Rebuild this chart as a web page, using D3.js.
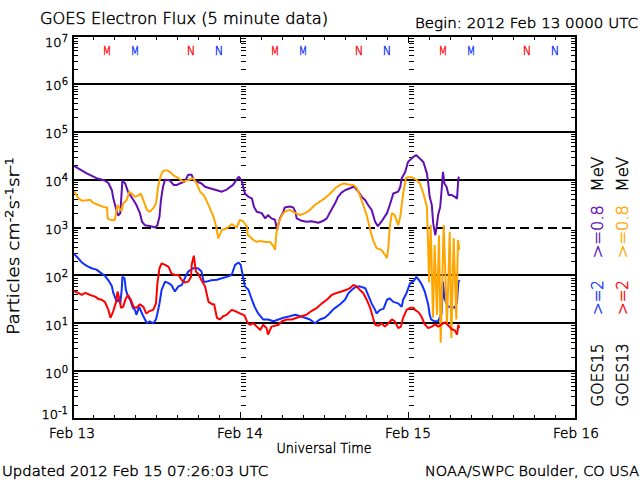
<!DOCTYPE html>
<html><head><meta charset="utf-8">
<script src="https://cdn.jsdelivr.net/npm/d3@7"></script>
<style>
html,body{margin:0;padding:0;background:#fff;}
svg{display:block;}
text{font-family:"DejaVu Sans",sans-serif;font-weight:200;fill:#000;stroke:#000;stroke-width:0.45px;}
</style>
</head><body>
<script>
// ---------- data (hours since 2012 Feb 13 00:00 UTC, particle flux) ----------
const goes15_08_h = [0.1,2.1,3.5,4.7,5.2,5.7,5.9,6.4,6.6,6.9,7.2,7.6,8.0,8.8,9.2,9.7,10.0,10.4,11.1,11.9,12.2,12.5,12.7,13.0,13.3,14.0,14.5,15.0,15.4,16.1,16.6,17.1,17.4,18.0,18.5,19.0,19.7,20.7,21.4,22.1,23.0,23.8,24.2,24.7,25.2,25.7,26.0,26.4,27.1,27.6,28.0,28.5,29.0,29.3,29.7,30.2,30.4,31.1,31.6,31.9,32.1,32.8,33.5,34.2,35.2,35.9,36.4,36.9,37.6,38.0,38.5,39.0,39.7,40.2,40.4,40.9,41.4,41.9,42.3,42.8,43.3,43.7,44.2,45.0,45.4,45.9,46.6,46.9,47.1,47.6,48.0,48.8,49.2,49.7,50.2,50.7,50.9,51.1,51.4,51.6,51.9,52.1,52.3,52.6,52.8,53.0,53.2,53.5,53.8,54.2,54.7,55.0,55.2,55.3];
const goes15_08_v = [20000,13500,10700,9550,8500,6000,4070,2140,1780,2000,9550,8300,5600,3700,2950,2000,1320,1120,1070,1000,1120,1700,3700,7100,10000,9550,7760,7760,8300,9100,12600,12600,9770,8900,8300,7100,6600,6000,5600,6200,7760,11500,9770,5130,4370,4070,2690,2140,2000,1550,1820,1550,1450,890,1550,2140,2630,2750,2630,2140,1550,1380,1320,1350,1260,1380,1550,2140,3240,4370,5370,6000,6600,7100,6900,5600,4370,3700,2950,2340,1320,1070,1320,2000,2950,5130,5600,7100,10700,14500,23400,30200,32400,27500,23400,13500,8300,4370,2950,1230,690,1050,1820,2690,6000,14500,8300,7100,4790,4790,4370,3980,10700,11500];

const goes13_08_h = [0.0,0.4,0.9,1.4,2.1,2.6,3.0,3.8,4.5,5.0,5.1,5.4,6.1,6.3,6.5,6.9,7.1,7.3,7.8,8.2,8.5,9.0,9.5,9.8,10.2,10.7,11.1,11.6,12.0,12.3,12.7,13.0,13.5,14.0,14.5,15.2,15.9,16.6,17.3,17.8,18.3,18.8,19.2,19.7,20.2,20.6,20.9,21.4,22.1,22.8,23.5,24.0,24.5,25.0,25.1,25.4,25.9,26.4,26.9,27.6,28.3,28.8,29.0,29.2,29.5,30.0,30.4,31.1,31.9,32.6,33.3,34.0,34.7,35.4,36.1,36.9,37.6,38.3,38.8,39.5,40.2,40.7,41.1,41.6,42.1,42.6,43.0,43.5,44.2,44.7,45.0,45.2,45.4,45.7,46.1,46.6,46.9,47.3,47.7,48.0,48.5,49.2,49.7,50.2,50.7,50.9,51.0,51.24,51.57,51.81,52.14,52.43,52.67,53.1,53.57,53.96,54.19,54.53,54.9,55.14,55.33];
const goes13_08_v = [5370,5500,4070,3630,3700,3800,3310,2950,2690,2630,1550,1450,1410,2000,2950,2340,2240,3160,3700,5600,5130,4370,4680,5130,3700,2340,2140,2510,3160,7100,12300,15100,15800,14500,12300,10700,9100,9770,10700,8300,5600,4790,3700,2510,1700,1050,590,890,955,1175,1000,1450,1320,1050,690,650,550,500,525,500,500,400,340,760,1230,1820,2140,2340,2000,1820,2000,2340,2950,3470,4070,5130,6600,7760,8300,7940,7760,6600,4790,2950,1820,890,550,370,340,270,230,400,1050,2000,1820,1120,1700,5000,10700,11200,11200,10000,8300,5130,2690,340,72,1120,13,430,15,690,3.9,1120,9.1,810,4.9,600,12,550,340];

const goes15_2_h = [0.1,0.7,1.4,2.1,2.8,3.5,4.2,4.7,5.2,5.7,5.9,6.4,6.6,6.9,7.1,7.2,7.5,7.7,8.0,8.3,8.7,9.0,9.2,9.6,10.0,10.3,10.7,11.1,11.6,12.0,12.2,12.5,12.8,13.3,13.8,14.2,14.7,15.2,15.7,16.1,16.6,17.3,18.0,18.5,18.8,19.2,19.9,20.7,21.4,22.1,22.8,23.3,23.8,24.1,24.4,24.7,25.2,25.7,26.1,26.6,27.3,28.0,28.8,29.5,30.2,31.1,31.9,32.6,33.3,34.0,34.7,35.4,36.1,36.6,37.1,37.6,38.3,39.0,39.5,40.0,40.4,41.1,41.9,42.3,42.8,43.3,43.5,44.0,44.5,45.0,45.4,45.9,46.6,47.1,47.3,47.8,48.3,48.8,49.2,49.6,50.0,50.4,50.9,51.1,51.3,51.8,52.3,52.8,53.0,53.2,53.7,54.2,54.7,55.0,55.2,55.4];
const goes15_2_v = [295,245,186,158,141,132,110,98,79,59,43,28,32,26,50,93,87,50,36,31,21,19,15,22,16,13,10,11,10,12,16,26,50,74,69,63,46,59,63,87,120,141,141,120,74,74,79,81,87,93,102,166,186,166,98,59,50,31,22,16,12,12,11,12,13,14,15,14,13,12,10,12,13,15,18,21,25,31,43,50,56,59,54,39,26,19,16,19,20,31,33,28,26,22,31,43,69,76,93,79,63,46,24,15,12,11,11,16,74,33,22,22,21,28,74,79];

const goes13_2_h = [0.0,0.4,0.9,1.4,1.9,2.6,3.3,3.8,4.2,4.7,5.2,5.5,5.9,6.3,6.5,6.8,7.0,7.3,7.7,8.0,8.4,8.8,9.2,9.7,10.2,10.6,11.1,11.6,12.0,12.2,12.5,12.8,13.3,13.8,14.2,14.7,15.2,15.7,16.1,16.6,17.0,17.1,17.4,17.7,18.0,18.5,19.0,19.5,20.0,20.3,20.7,21.1,21.6,22.1,22.8,23.3,24.0,24.5,24.7,25.1,25.4,25.9,26.4,26.9,27.3,27.8,28.0,28.5,29.0,29.5,30.0,30.7,31.4,32.1,32.8,33.5,34.2,35.0,35.7,36.4,37.1,37.8,38.5,39.2,39.7,40.2,40.7,41.1,41.6,42.1,42.6,43.0,43.3,43.8,44.2,44.7,45.2,45.7,46.1,46.6,47.0,47.3,47.8,48.3,48.8,49.0,49.5,49.9,50.4,50.9,51.4,51.9,52.3,52.8,53.3,53.8,54.2,54.7,55.0,55.2,55.3];
const goes13_2_v = [50,46,43,39,43,39,36,32,31,28,19,13,18,28,46,31,21,22,33,39,31,22,21,25,22,16,18,19,26,69,141,178,166,151,110,102,102,79,71,74,93,166,257,120,110,79,59,28,25,25,13,12,14,15,19,18,16,15,14,10,9.3,10,8.5,7.2,9.3,7.9,5.8,8.5,8.9,9.3,11,12,12,13,14,15,18,21,26,31,39,43,46,50,54,63,59,50,43,31,21,13,9.3,8.9,10,8.5,10,12,11,7.9,8.5,13,19,21,21,19,17,14,9.5,7.9,8.5,9.5,8.5,9.5,10.5,8.9,7.6,7.1,5.8,9.3,7.9];

// local midnight (M) / noon (N) of each satellite, hours
const goes13_M = [5,29,53];
const goes15_M = [9,33,57];
const goes13_N = [17,41,65];
const goes15_N = [21,45,69];

const dayLabels = ["Feb 13","Feb 14","Feb 15","Feb 16"];
const tickExponents = [-1,0,1,2,3,4,5,6,7];

// ---------- layout ----------
const W = 640, H = 480;
const C_PURPLE = "#6010b0", C_ORANGE = "#ffa500", C_BLUE = "#1030ff", C_RED = "#ff0000";

const svg = d3.select("body").append("svg").attr("width", W).attr("height", H);
svg.append("rect").attr("width", W).attr("height", H).attr("fill", "#fff");

const x = d3.scaleLinear().domain([0, 72]).range([72, 576]);
const y = d3.scaleLog().domain([0.1, 1e7]).range([419, 36]);

const axisG = svg.append("g").attr("shape-rendering", "crispEdges").attr("stroke", "#000");

// grid lines at decades
for (const k of tickExponents) {
  if (k === -1 || k === 7) continue;
  axisG.append("line")
    .attr("x1", x(0)).attr("x2", x(72))
    .attr("y1", Math.round(y(Math.pow(10, k)))).attr("y2", Math.round(y(Math.pow(10, k))))
    .attr("stroke-width", 2)
    .attr("stroke-dasharray", k === 3 ? "9,5" : null);
}

// minor y ticks (left, right, day boundaries)
const minorVals = [];
for (let k = -1; k < 7; k++) for (let m = 2; m <= 9; m++) minorVals.push(m * Math.pow(10, k));
const px = v => Math.round(v) + 0.5;
for (const v of minorVals) {
  const yy = px(y(v));
  axisG.append("line").attr("x1", 73).attr("x2", 78).attr("y1", yy).attr("y2", yy).attr("stroke-width", 1);
  axisG.append("line").attr("x1", 576).attr("x2", 571).attr("y1", yy).attr("y2", yy).attr("stroke-width", 1);
  for (const d of [24, 48]) {
    axisG.append("line").attr("x1", x(d) + 1).attr("x2", x(d) + 6).attr("y1", yy).attr("y2", yy).attr("stroke-width", 1);
  }
}

// x ticks every 3 hours
for (let h = 3; h < 72; h += 3) {
  const xx = px(x(h));
  const len = (h % 24 === 0) ? 7 : 4;
  axisG.append("line").attr("x1", xx).attr("x2", xx).attr("y1", 419).attr("y2", 419 - len).attr("stroke-width", 1);
  axisG.append("line").attr("x1", xx).attr("x2", xx).attr("y1", 36).attr("y2", 36 + len).attr("stroke-width", 1);
}

// ---------- data lines ----------
const line = d3.line().x(d => x(d[0])).y(d => y(d[1]));
const series = [
  [goes15_08_h, goes15_08_v, C_PURPLE],
  [goes15_2_h, goes15_2_v, C_BLUE],
  [goes13_08_h, goes13_08_v, C_ORANGE],
  [goes13_2_h, goes13_2_v, C_RED]
];
const dataG = svg.append("g");
for (const [hs, vs, col] of series) {
  dataG.append("path").datum(d3.zip(hs, vs))
    .attr("fill", "none").attr("stroke", col).attr("stroke-width", 2)
    .attr("stroke-linejoin", "bevel").attr("d", line);
}

// frame
const frame = svg.append("g").attr("shape-rendering", "crispEdges").attr("stroke", "#000").attr("stroke-width", 2);
frame.append("line").attr("x1", 73).attr("x2", 73).attr("y1", 35).attr("y2", 420);
frame.append("line").attr("x1", 576).attr("x2", 576).attr("y1", 35).attr("y2", 420);
frame.append("line").attr("x1", 72).attr("x2", 577).attr("y1", 36).attr("y2", 36);
frame.append("line").attr("x1", 72).attr("x2", 577).attr("y1", 419).attr("y2", 419);

// ---------- texts ----------
function txt(s, xx, yy, opts = {}) {
  const t = svg.append("text").attr("x", xx).attr("y", yy).text(s)
    .attr("font-size", opts.size || 14)
    .attr("text-anchor", opts.anchor || "start");
  if (opts.len) t.attr("textLength", opts.len).attr("lengthAdjust", "spacingAndGlyphs");
  if (opts.fill) t.style("fill", opts.fill).style("stroke", opts.fill);
  return t;
}
txt("GOES Electron Flux (5 minute data)", 40, 24, {size: 15, len: 288});
txt("Begin: 2012 Feb 13 0000 UTC", 415, 28, {size: 14, len: 223});
txt("Updated 2012 Feb 15 07:26:03 UTC", 2, 476, {size: 14, len: 266});
txt("NOAA/SWPC Boulder, CO USA", 639, 476, {size: 14, len: 214, anchor: "end"});
txt("Universal Time", 324, 453, {size: 14, len: 95, anchor: "middle"});

dayLabels.forEach((s, i) => txt(s, x(i * 24), 438, {size: 14, len: 46, anchor: "middle"}));

// y tick labels 10^k
for (const k of tickExponents) {
  const gy = y(Math.pow(10, k));
  const base = k === 7 ? gy + 10.7 : (k === -1 ? gy + 0.3 : gy + 6.5);
  const t = svg.append("text").attr("x", 68).attr("y", base).attr("text-anchor", "end").attr("font-size", 13);
  t.append("tspan").text("10");
  t.append("tspan").attr("font-size", 10).attr("dy", -5).text(k < 0 ? "-" + (-k) : String(k));
}

// y axis title
{
  const t = svg.append("text").attr("transform", "translate(19,246) rotate(-90)")
    .attr("text-anchor", "middle").attr("font-size", 16)
    .attr("textLength", 178).attr("lengthAdjust", "spacingAndGlyphs");
  t.append("tspan").text("Particles cm");
  t.append("tspan").attr("font-size", 11).attr("dy", -6).text("-2");
  t.append("tspan").attr("dy", 6).text("s");
  t.append("tspan").attr("font-size", 11).attr("dy", -6).text("-1");
  t.append("tspan").attr("dy", 6).text("sr");
  t.append("tspan").attr("font-size", 11).attr("dy", -6).text("-1");
}

// right legend (rotated)
function rtxt(s, bx, y0, y1, col) {
  svg.append("text").attr("transform", `translate(${bx},${y0}) rotate(-90)`)
    .attr("font-size", 16).attr("textLength", y0 - y1).attr("lengthAdjust", "spacingAndGlyphs")
    .style("fill", col).style("stroke", col).text(s);
}
const legendCols = [[603, "GOES15", C_BLUE, C_PURPLE], [628, "GOES13", C_RED, C_ORANGE]];
for (const [bx, name, c2, c08] of legendCols) {
  rtxt(name, bx, 406.7, 343.3, "#000");
  rtxt(">=2", bx, 315, 280, c2);
  rtxt(">=0.8", bx, 258.3, 205, c08);
  rtxt("MeV", bx, 191.7, 156.7, "#000");
}

// M / N markers
const markers = [[goes13_M, "M", C_RED], [goes15_M, "M", C_BLUE], [goes13_N, "N", C_RED], [goes15_N, "N", C_BLUE]];
for (const [hs, lab, col] of markers) {
  for (const h of hs) txt(lab, x(h), 55, {size: 13, len: 8.5, anchor: "middle", fill: col});
}
</script>
</body></html>
